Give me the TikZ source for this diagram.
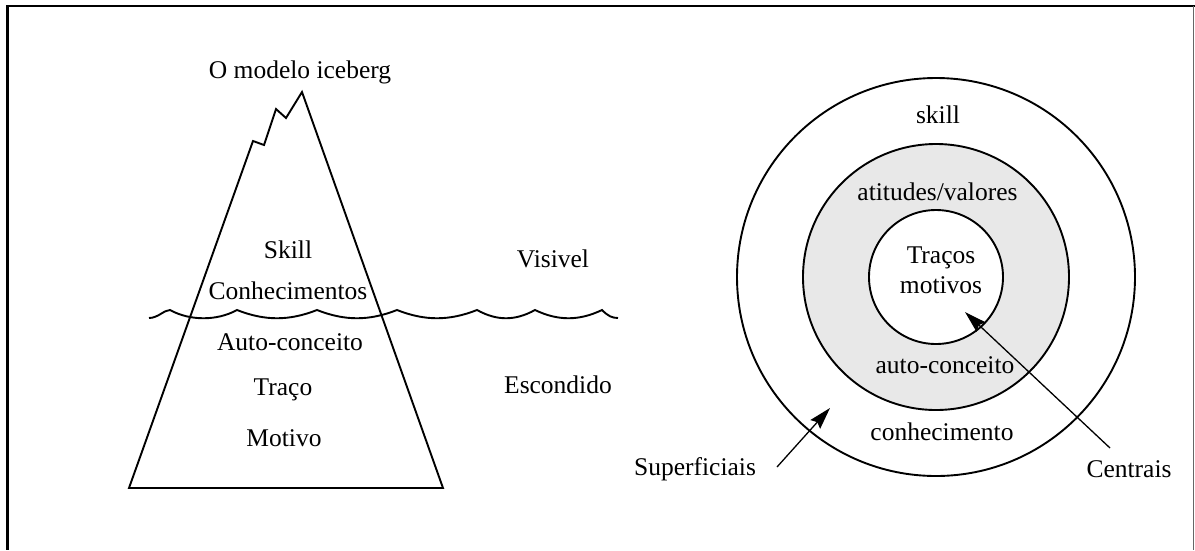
\documentclass[tikz,border=0pt]{standalone}
\usepackage{fontspec}
\setmainfont{Liberation Serif}
\usetikzlibrary{arrows.meta}
\begin{document}
\begin{tikzpicture}[x=1pt,y=-1pt,
  lbl/.style={anchor=base,inner sep=0pt,font=\fontsize{25.5}{30}\selectfont},
  ring/.style={draw=black,line width=1.9pt},
  pointer/.style={draw=black,line width=1.3pt,-{Stealth[length=22pt,width=13pt,inset=3pt]}}]
\useasboundingbox (0,0) rectangle (1195,550);
% frame
\draw[line width=1.2pt] (7,6) -- (1195,6);
\draw[line width=3pt] (7.5,5) -- (7.5,550);
\draw[line width=0.8pt,black!60] (1193.5,6) -- (1193.5,550);
% iceberg
\draw[line width=1.9pt,line join=miter] (129,488) -- (253,141) -- (264,145) -- (276,109) -- (286,118) -- (302,92) -- (443,488) -- cycle;
% water
\draw[line width=1.9pt] (149,318) .. controls (158,318) and (164,310) .. (170,310)
  .. controls (190,321) and (217,321) .. (237,310)
  .. controls (265,321) and (289,321) .. (317,310)
  .. controls (345,321) and (369,321) .. (397,310)
  .. controls (425,321) and (449,321) .. (477,310)
  .. controls (497,321) and (515,321) .. (535,310)
  .. controls (558,321) and (579,321) .. (602,310)
  .. controls (608,316) and (612,318) .. (618,318);
\node[lbl] (title) at (300,78) {O modelo iceberg};
\node[lbl] (skillA) at (288,258) {Skill};
\node[lbl] (conhA) at (288,299) {Conhecimentos};
\node[lbl] (autoA) at (290,350) {Auto-conceito};
\node[lbl] (tracoA) at (283,395) {Traço};
\node[lbl] (motivoA) at (284,446) {Motivo};
\node[lbl] (vis) at (553,267) {Visivel};
\node[lbl] (esc) at (558,393) {Escondido};
% circles
\coordinate (c) at (936,277);
\draw[ring] (c) circle[radius=199];
\draw[ring,fill=black!9] (c) circle[radius=133];
\draw[ring,fill=white] (c) circle[radius=67];
\node[lbl] (skillB) at (938,123) {skill};
\node[lbl] (atit) at (937.5,200) {atitudes/valores};
\node[lbl] (tracos) at (941,263) {Traços};
\node[lbl] (motivos) at (941,293) {motivos};
\node[lbl] (autoB) at (945,373) {auto-conceito};
\node[lbl] (conhB) at (942,440) {conhecimento};
\node[lbl] (sup) at (695,475) {Superficiais};
\node[lbl] (cen) at (1129,477) {Centrais};
\coordinate (supStart) at (777,467);
\coordinate (supTip) at (830,408);
\coordinate (cenStart) at (1110,448);
\coordinate (cenTip) at (965,312);
\draw[pointer] (supStart) -- (supTip);
\draw[pointer] (cenStart) -- (cenTip);
\end{tikzpicture}
\end{document}
